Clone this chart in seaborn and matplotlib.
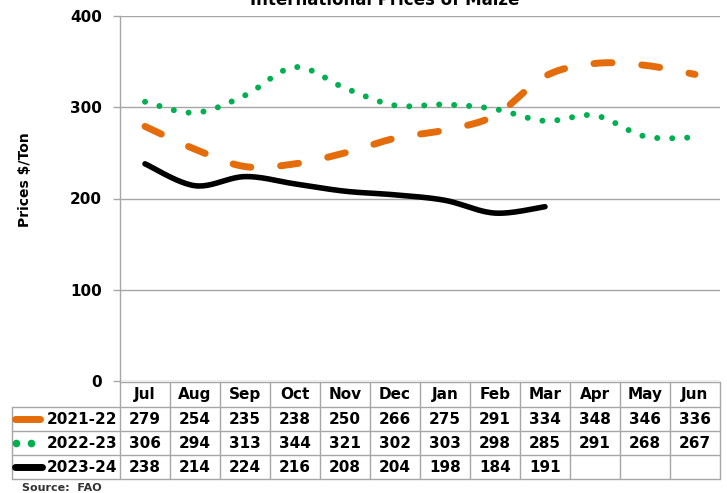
import numpy as np
import pandas as pd
import seaborn as sns
import matplotlib.pyplot as plt

months = ['Jul', 'Aug', 'Sep', 'Oct', 'Nov', 'Dec', 'Jan', 'Feb', 'Mar', 'Apr', 'May', 'Jun']
p2122 = [279, 254, 235, 238, 250, 266, 275, 291, 334, 348, 346, 336]
p2223 = [306, 294, 313, 344, 321, 302, 303, 298, 285, 291, 268, 267]
p2324 = [238, 214, 224, 216, 208, 204, 198, 184, 191]
seasons = ['2021-22', '2022-23', '2023-24']

sns.set_style("white")
plt.rcParams['font.family'] = ['DejaVu Sans']
plt.rcParams['text.color'] = 'black'

ORANGE = '#E46C0A'
GREEN = '#00B050'
BLACK = '#000000'
GRID = '#A6A6A6'
W, H = 727, 493


# excel style smoothed line (bezier through the points)
def smooth(vals, n=24):
    pts = np.column_stack([np.arange(len(vals)), vals]).astype(float)
    P = np.vstack([pts[0], pts, pts[-1]])
    segs = []
    for i in range(1, len(P) - 2):
        p0, p1, p2, p3 = P[i - 1], P[i], P[i + 1], P[i + 2]
        c1 = p1 + (p2 - p0) / 6
        c2 = p2 - (p3 - p1) / 6
        t = np.linspace(0, 1, n, endpoint=(i == len(P) - 3))[:, None]
        segs.append((1 - t) ** 3 * p1 + 3 * (1 - t) ** 2 * t * c1 + 3 * (1 - t) * t ** 2 * c2 + t ** 3 * p2)
    c = np.vstack(segs)
    return pd.DataFrame({'x': c[:, 0], 'y': c[:, 1]})


# pixel -> figure coords helpers
def fx(px):
    return px / W


def fy(py):
    return 1 - py / H


fig = plt.figure(figsize=(7.27, 4.93), dpi=100)
ax = fig.add_axes([fx(120), fy(381), 600 / W, 365 / H])

styles = [
    (p2122, ORANGE, 5.0, (0, (2.6, 4.3))),
    (p2223, GREEN, 4.3, (0, (0.01, 2.5))),
    (p2324, BLACK, 4.0, '-'),
]
for vals, col, lw, ls in styles:
    d = smooth(vals)
    sns.lineplot(data=d, x='x', y='y', sort=False, estimator=None, ax=ax,
                 color=col, linewidth=lw, linestyle=ls,
                 dash_capstyle='round', solid_capstyle='round')

ax.set_xlim(-0.5, 11.5)
ax.set_ylim(0, 400)
ax.set_yticks([0, 100, 200, 300, 400])
ax.set_yticklabels(['0', '100', '200', '300', '400'], fontsize=11, fontweight='bold', color='black')
ax.set_xticks([])
ax.set_xlabel('')
ax.set_ylabel('')
ax.yaxis.grid(True, color=GRID, linewidth=1)
ax.tick_params(axis='y', left=True, length=5, width=1, color=GRID, pad=8)
for s in ['top', 'right', 'bottom']:
    ax.spines[s].set_visible(False)
ax.spines['left'].set_color(GRID)
ax.spines['left'].set_linewidth(1)

# data table under the plot, drawn by hand
col_x = [12, 120] + [120 + 50 * (j + 1) for j in range(len(months))]
row_y = [382, 407, 431, 455, 479]
fs = 11


def hline(y, x0, x1):
    fig.add_artist(plt.Line2D([fx(x0), fx(x1)], [fy(y), fy(y)], color=GRID, linewidth=1))


def vline(x, y0, y1):
    fig.add_artist(plt.Line2D([fx(x), fx(x)], [fy(y0), fy(y1)], color=GRID, linewidth=1))


hline(row_y[0], 120, 720)
for y in row_y[1:]:
    hline(y, 12, 720)
vline(12, row_y[1], row_y[-1])
for x in col_x[1:]:
    vline(x, row_y[0], row_y[-1])

for j, m in enumerate(months):
    fig.text(fx(145 + 50 * j), fy((row_y[0] + row_y[1]) / 2), m, ha='center', va='center',
             fontsize=fs, fontweight='bold')
rows = [p2122, p2223, p2324]
for i, (lab, vals) in enumerate(zip(seasons, rows)):
    yc = fy((row_y[i + 1] + row_y[i + 2]) / 2)
    fig.text(fx(117), yc, lab, ha='right', va='center', fontsize=fs, fontweight='bold')
    for j, v in enumerate(vals):
        fig.text(fx(145 + 50 * j), yc, str(v), ha='center', va='center', fontsize=fs, fontweight='bold')

# legend keys in the row label cells
key_y = [fy((row_y[i + 1] + row_y[i + 2]) / 2) for i in range(3)]
fig.add_artist(plt.Line2D([fx(15), fx(40)], [key_y[0]] * 2, color=ORANGE, linewidth=5,
                          solid_capstyle='round'))
fig.add_artist(plt.Line2D([fx(16), fx(31)], [key_y[1]] * 2, color=GREEN, linestyle='none',
                          marker='o', markersize=4.5))
fig.add_artist(plt.Line2D([fx(15), fx(42)], [key_y[2]] * 2, color=BLACK, linewidth=5,
                          solid_capstyle='round'))

fig.text(fx(385), fy(5), 'International Prices of Maize', ha='center', va='baseline',
         fontsize=12, fontweight='bold')
fig.text(fx(25), fy(180), 'Prices $/Ton', rotation=90, ha='center', va='center',
         fontsize=10, fontweight='bold')
fig.text(fx(22), fy(488), 'Source:  FAO', ha='left', va='center', fontsize=8,
         fontweight='bold', color='#333333')

fig.savefig('out.png', dpi=100)
